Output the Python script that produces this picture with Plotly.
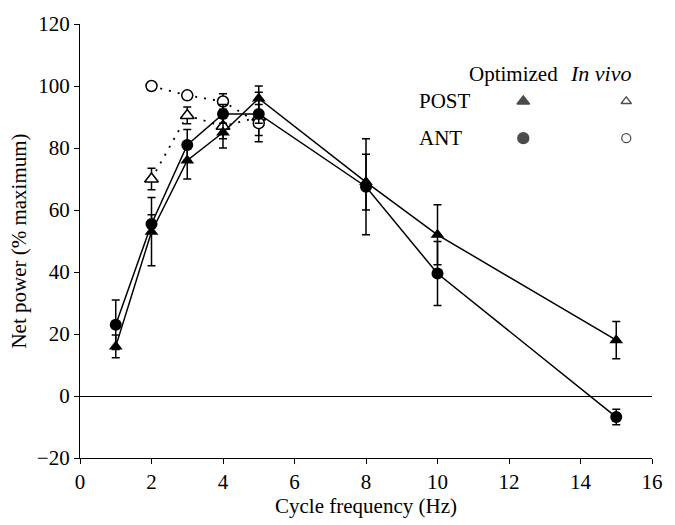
import plotly.graph_objects as go

freq = [1, 2, 3, 4, 5, 8, 10, 15]
post_opt = [16, 53, 76, 85, 96, 69, 52, 18]
post_opt_err = [3.7, 11, 6, 5, 4, 9, 9.7, 6]
ant_opt = [23, 55.5, 81, 91, 91, 67.5, 39.5, -6.8]
ant_opt_err = [8, 3, 5, 3, 3, 15.5, 10.3, 2.5]

freq_vivo = [2, 3, 4, 5]
post_vivo = [70, 90.5, 87, 90]
post_vivo_err = [3.5, 2.7, 4, 8]
ant_vivo = [100, 97, 95, 88]
ant_vivo_err = [None, None, 2.5, 4]

FONT = "Liberation Serif, Times New Roman, Times, serif"
FS = 21
fig = go.Figure()

def err(a):
    return dict(type="data", array=a, visible=True, color="black", thickness=1.5, width=4)

fig.add_trace(go.Scatter(x=freq_vivo, y=post_vivo, mode="lines+markers", error_y=err(post_vivo_err),
                         line=dict(color="black", width=1.8, dash="2px,7px"),
                         marker=dict(symbol="triangle-up", size=12, color="white", line=dict(width=1.5, color="black"))))
# error bars only where they exist for ANT in vivo
sub = [(x, y, e) for x, y, e in zip(freq_vivo, ant_vivo, ant_vivo_err) if e is not None]
fig.add_trace(go.Scatter(x=[s[0] for s in sub], y=[s[1] for s in sub], mode="markers",
                         error_y=err([s[2] for s in sub]),
                         marker=dict(size=1, opacity=0), hoverinfo="skip"))
fig.add_trace(go.Scatter(x=freq_vivo, y=ant_vivo, mode="lines+markers",
                         line=dict(color="black", width=1.8, dash="2px,7px"),
                         marker=dict(symbol="circle", size=11, color="white", line=dict(width=1.5, color="black"))))
fig.add_trace(go.Scatter(x=freq, y=post_opt, mode="lines+markers", error_y=err(post_opt_err),
                         line=dict(color="black", width=1.5),
                         marker=dict(symbol="triangle-up", size=12, color="black")))
fig.add_trace(go.Scatter(x=freq, y=ant_opt, mode="lines+markers", error_y=err(ant_opt_err),
                         line=dict(color="black", width=1.5),
                         marker=dict(symbol="circle", size=12, color="black")))

# key symbols on an overlay axis (0-1 range)
key_x = [0.775, 0.775, 0.955, 0.955]
key_y = [0.822, 0.737, 0.822, 0.737]
key_sym = ["triangle-up", "circle", "triangle-up-open", "circle-open"]
fig.add_trace(go.Scatter(x=key_x, y=key_y, xaxis="x2", yaxis="y2", mode="markers",
                         marker=dict(symbol=key_sym, size=[11, 11, 9, 9], color="black", line=dict(width=1.3, color="black")),
                         hoverinfo="skip"))

fig.update_layout(
    width=675, height=525,
    margin=dict(l=80, r=15, t=22, b=65),
    paper_bgcolor="white", plot_bgcolor="white",
    showlegend=False,
    font=dict(family=FONT, size=FS, color="black"),
    xaxis=dict(range=[0, 16], tickvals=list(range(0, 17, 2)), showline=True, linecolor="black", linewidth=1.2,
               ticks="outside", ticklen=5, tickcolor="black", showgrid=False, zeroline=False,
               tickfont=dict(family=FONT, size=FS),
               title=dict(text="Cycle frequency (Hz)", font=dict(family=FONT, size=FS), standoff=4)),
    yaxis=dict(range=[-20, 120], tickvals=list(range(-20, 121, 20)), showline=True, linecolor="black", linewidth=1.2,
               ticks="outside", ticklen=5, tickcolor="black", showgrid=False,
               tickfont=dict(family=FONT, size=FS),
               zeroline=True, zerolinecolor="black", zerolinewidth=1.2,
               title=dict(text="Net power (% maximum)", font=dict(family=FONT, size=FS), standoff=4)),
    xaxis2=dict(range=[0, 1], overlaying="x", visible=False),
    yaxis2=dict(range=[0, 1], overlaying="y", visible=False),
    annotations=[
        dict(text="Optimized", x=0.758, y=0.885, xref="paper", yref="paper", showarrow=False,
             xanchor="center", yanchor="middle", font=dict(family=FONT, size=FS)),
        dict(text="<i>In vivo</i>", x=0.91, y=0.885, xref="paper", yref="paper", showarrow=False,
             xanchor="center", yanchor="middle", font=dict(family=FONT, size=FS + 1)),
        dict(text="POST", x=0.59, y=0.822, xref="paper", yref="paper", showarrow=False,
             xanchor="left", yanchor="middle", font=dict(family=FONT, size=FS)),
        dict(text="ANT", x=0.59, y=0.737, xref="paper", yref="paper", showarrow=False,
             xanchor="left", yanchor="middle", font=dict(family=FONT, size=FS)),
    ],
)

fig.write_html("out.html")
